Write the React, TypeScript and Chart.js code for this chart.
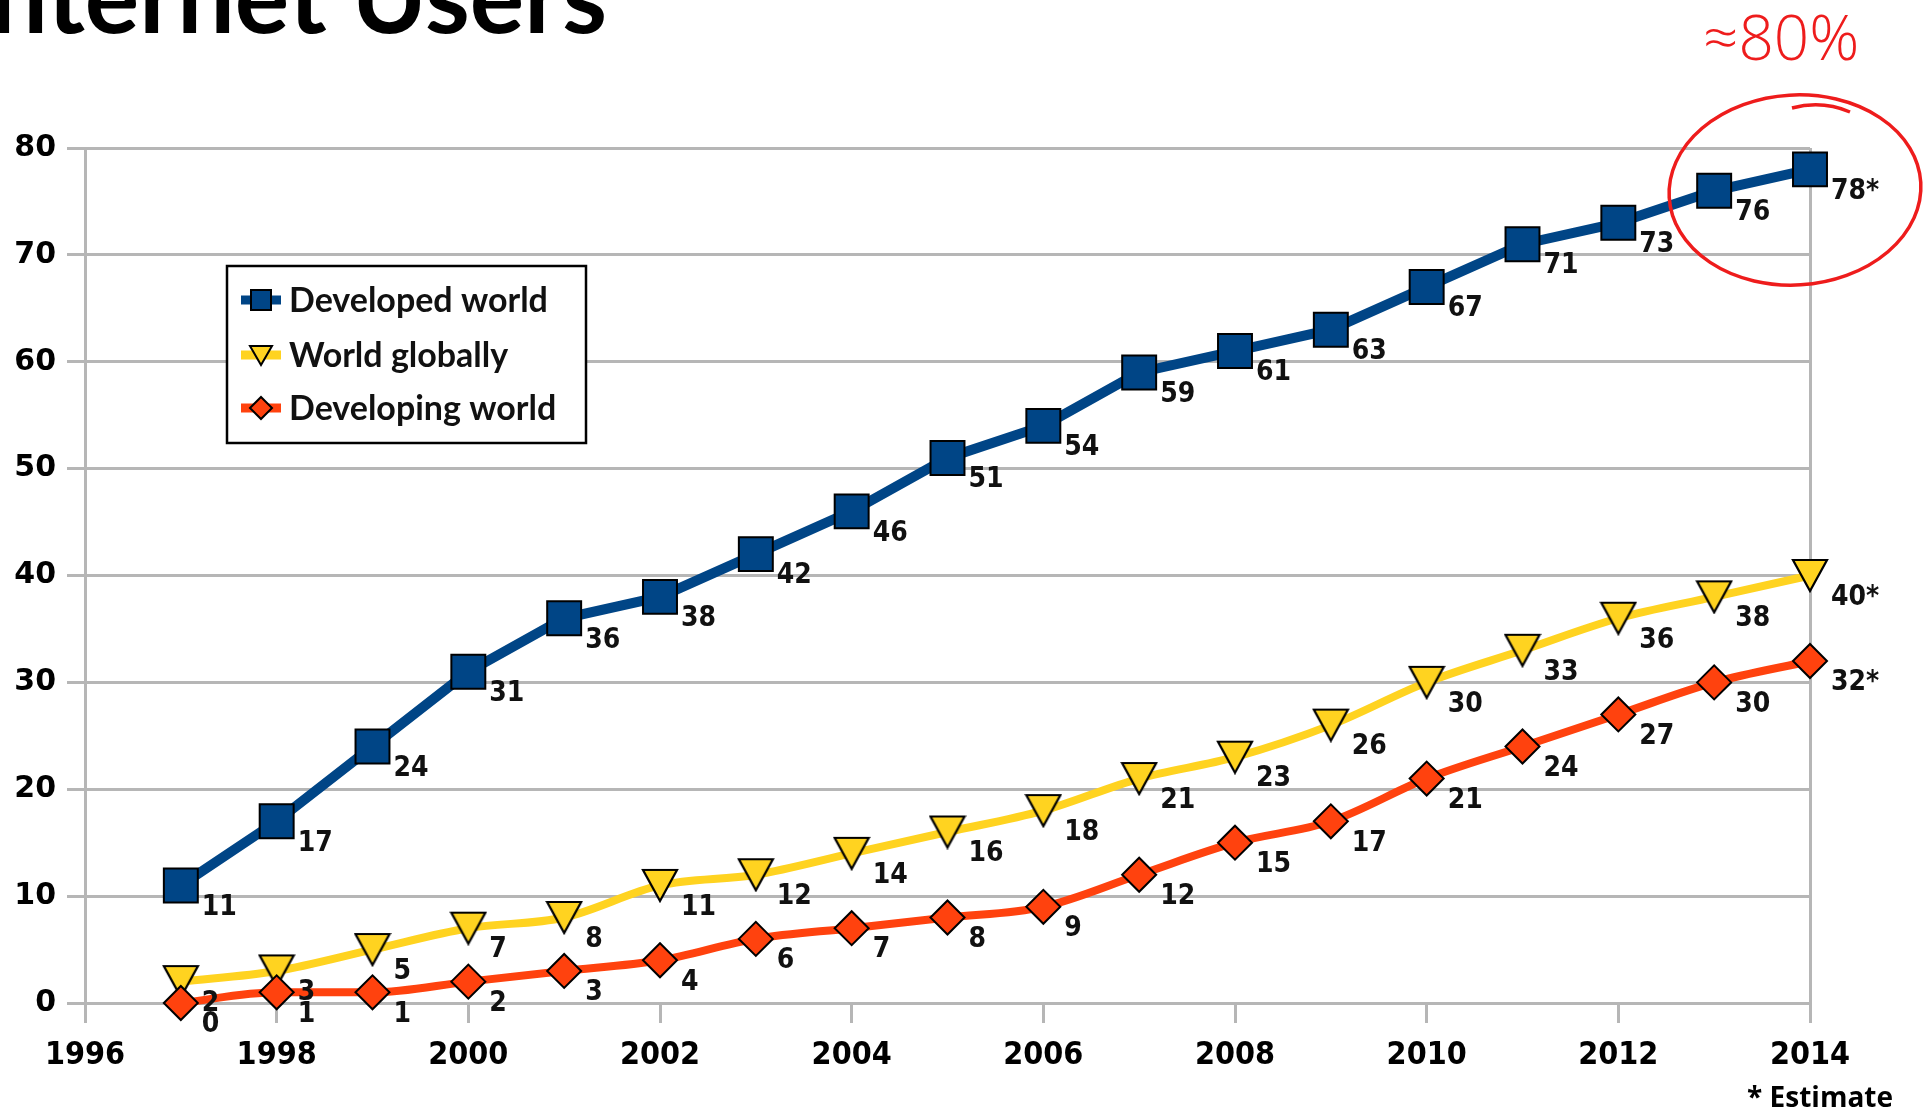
import React, { useEffect, useRef } from 'react';
import { Chart, registerables } from 'chart.js';

Chart.register(...registerables);

// ---------- data ----------
const years = [1997, 1998, 1999, 2000, 2001, 2002, 2003, 2004, 2005, 2006, 2007, 2008, 2009, 2010, 2011, 2012, 2013, 2014];
const developedWorld = [11, 17, 24, 31, 36, 38, 42, 46, 51, 54, 59, 61, 63, 67, 71, 73, 76, 78];
const worldGlobally = [2, 3, 5, 7, 8, 11, 12, 14, 16, 18, 21, 23, 26, 30, 33, 36, 38, 40];
const developingWorld = [0, 1, 1, 2, 3, 4, 6, 7, 8, 9, 12, 15, 17, 21, 24, 27, 30, 32];
const estimatedYears = [2014];
const seriesNames = ['Developed world', 'World globally', 'Developing world'];
const xTicks = { min: 1996, max: 2014, step: 2 };
const yTicks = { min: 0, max: 80, step: 10 };
const titleText = 'Internet Users';
const noteText = '* Estimate';
const annotationText = '≈80%';

// ---------- styles ----------
const BLUE = '#004586';
const YELLOW = '#ffd320';
const ORANGE = '#ff420e';
const GRID = '#b6b6b6';
const RED = '#ee1c1c';

function triangleImage(w: number, h: number, fill: string) {
  const c = document.createElement('canvas');
  c.width = w + 4;
  c.height = h + 4;
  const g = c.getContext('2d')!;
  g.beginPath();
  g.moveTo(2, 2);
  g.lineTo(w + 2, 2);
  g.lineTo(w / 2 + 2, h + 2);
  g.closePath();
  g.fillStyle = fill;
  g.fill();
  g.lineWidth = 2.2;
  g.strokeStyle = '#000';
  g.stroke();
  return c;
}

const toPoints = (vals: number[]) => vals.map((v, i) => ({ x: years[i], y: v }));

const valueLabelPlugin = {
  id: 'valueLabels',
  afterDatasetsDraw(chart: any) {
    const ctx = chart.ctx;
    ctx.save();
    ctx.font = 'bold 28px "DejaVu Sans Condensed", "DejaVu Sans"';
    ctx.fillStyle = '#111';
    ctx.textAlign = 'left';
    ctx.textBaseline = 'middle';
    chart.data.datasets.forEach((ds: any, i: number) => {
      const meta = chart.getDatasetMeta(i);
      meta.data.forEach((pt: any, j: number) => {
        const raw = ds.data[j];
        const label = String(raw.y) + (estimatedYears.includes(raw.x) ? '*' : '');
        ctx.fillText(label, pt.x + 21, pt.y + 22);
      });
    });
    ctx.restore();
  },
};

function drawLegendSymbol(ctx: CanvasRenderingContext2D, kind: number, cx: number, cy: number) {
  const colors = [BLUE, YELLOW, ORANGE];
  ctx.save();
  ctx.strokeStyle = colors[kind];
  ctx.lineWidth = 9;
  ctx.beginPath();
  ctx.moveTo(cx - 20, cy);
  ctx.lineTo(cx + 20, cy);
  ctx.stroke();
  ctx.fillStyle = colors[kind];
  ctx.strokeStyle = '#000';
  ctx.lineWidth = 2;
  ctx.beginPath();
  if (kind === 0) {
    ctx.rect(cx - 10, cy - 10, 20, 20);
  } else if (kind === 1) {
    ctx.moveTo(cx - 11, cy - 9);
    ctx.lineTo(cx + 11, cy - 9);
    ctx.lineTo(cx, cy + 10);
    ctx.closePath();
  } else {
    ctx.moveTo(cx - 11, cy);
    ctx.lineTo(cx, cy - 11);
    ctx.lineTo(cx + 11, cy);
    ctx.lineTo(cx, cy + 11);
    ctx.closePath();
  }
  ctx.fill();
  ctx.stroke();
  ctx.restore();
}

const decorationPlugin = {
  id: 'decorations',
  afterDraw(chart: any) {
    const ctx: CanvasRenderingContext2D = chart.ctx;
    ctx.save();
    // Title (cut at the top of the slide)
    ctx.fillStyle = '#000';
    ctx.font = 'bold 102px Lato';
    ctx.textAlign = 'right';
    ctx.textBaseline = 'alphabetic';
    ctx.fillText(titleText, 607, 33);

    // Note
    ctx.font = 'bold 28px "Open Sans"';
    ctx.textAlign = 'right';
    ctx.textBaseline = 'middle';
    ctx.fillText(noteText, 1893, 1099);

    // Legend
    const lx = 227, ly = 266, lw = 359, lh = 177;
    ctx.fillStyle = '#fff';
    ctx.fillRect(lx, ly, lw, lh);
    ctx.strokeStyle = '#000';
    ctx.lineWidth = 2.5;
    ctx.strokeRect(lx, ly, lw, lh);
    const rows = [300, 355, 408];
    ctx.font = 'bold 34px Lato';
    ctx.textAlign = 'left';
    ctx.textBaseline = 'middle';
    seriesNames.forEach((name, i) => {
      drawLegendSymbol(ctx, i, 261, rows[i]);
      ctx.fillStyle = '#111';
      ctx.fillText(name, 289, rows[i] + 1);
    });

    // Red handwritten annotation
    ctx.fillStyle = RED;
    ctx.font = '300 62px "Open Sans"';
    ctx.textAlign = 'left';
    ctx.textBaseline = 'middle';
    ctx.fillText(annotationText, 1703, 42);
    ctx.strokeStyle = RED;
    ctx.lineWidth = 3.5;
    ctx.beginPath();
    ctx.ellipse(1795, 190, 126, 95, -0.06, 0, Math.PI * 2);
    ctx.stroke();
    ctx.beginPath();
    ctx.moveTo(1792, 108);
    ctx.quadraticCurveTo(1822, 100, 1850, 112);
    ctx.stroke();
    ctx.restore();
  },
};

export default function App() {
  const canvasRef = useRef<HTMLCanvasElement | null>(null);

  useEffect(() => {
    const canvas = canvasRef.current;
    if (!canvas) return;
    const triImg = triangleImage(34, 31, YELLOW);
    const chart = new Chart(canvas, {
      type: 'line',
      data: {
        datasets: [
          {
            label: seriesNames[0],
            data: toPoints(developedWorld),
            borderColor: BLUE,
            backgroundColor: BLUE,
            borderWidth: 10,
            pointStyle: 'rect',
            pointRadius: 24,
            pointBackgroundColor: BLUE,
            pointBorderColor: '#000',
            pointBorderWidth: 2,
            tension: 0,
            clip: false,
            order: 2,
          },
          {
            label: seriesNames[1],
            data: toPoints(worldGlobally),
            borderColor: YELLOW,
            backgroundColor: YELLOW,
            borderWidth: 8,
            pointStyle: triImg,
            pointRadius: 17,
            pointBackgroundColor: YELLOW,
            pointBorderColor: '#000',
            pointBorderWidth: 2,
            cubicInterpolationMode: 'monotone',
            clip: false,
            order: 1,
          },
          {
            label: seriesNames[2],
            data: toPoints(developingWorld),
            borderColor: ORANGE,
            backgroundColor: ORANGE,
            borderWidth: 8,
            pointStyle: 'rectRot',
            pointRadius: 17,
            pointBackgroundColor: ORANGE,
            pointBorderColor: '#000',
            pointBorderWidth: 2,
            cubicInterpolationMode: 'monotone',
            clip: false,
            order: 0,
          },
        ] as any,
      },
      options: {
        responsive: false,
        animation: false,
        devicePixelRatio: 1,
        layout: { padding: { top: 148, right: 115, left: 0, bottom: 0 } },
        plugins: {
          legend: { display: false },
          tooltip: { enabled: false },
          title: { display: false },
        },
        scales: {
          x: {
            type: 'linear',
            min: xTicks.min,
            max: xTicks.max,
            afterFit: (scale: any) => {
              scale.height = 109;
            },
            ticks: {
              stepSize: xTicks.step,
              color: '#000',
              padding: 13,
              font: { family: '"DejaVu Sans Condensed", "DejaVu Sans"', weight: 'bold', size: 32 },
              callback: (v: any) => String(v),
            },
            grid: {
              color: (c: any) =>
                c.tick && (c.tick.value === xTicks.min || c.tick.value === xTicks.max) ? GRID : 'rgba(0,0,0,0)',
              tickColor: GRID,
              lineWidth: 3,
              tickLength: 20,
              drawOnChartArea: true,
            },
            border: { display: true, color: GRID, width: 3 },
          },
          y: {
            type: 'linear',
            min: yTicks.min,
            max: yTicks.max,
            afterFit: (scale: any) => {
              scale.width = 85;
            },
            ticks: {
              stepSize: yTicks.step,
              color: '#000',
              padding: 11,
              font: { family: '"DejaVu Sans"', weight: 'bold', size: 30 },
            },
            grid: {
              color: GRID,
              lineWidth: 3,
              tickLength: 18,
            },
            border: { display: true, color: GRID, width: 3 },
          },
        },
      } as any,
      plugins: [valueLabelPlugin, decorationPlugin],
    });
    return () => chart.destroy();
  }, []);

  return (
    <div style={{ position: 'fixed', left: 0, top: 0, width: 1925, height: 1112, background: '#fff' }}>
      <canvas ref={canvasRef} width={1925} height={1112} />
    </div>
  );
}
